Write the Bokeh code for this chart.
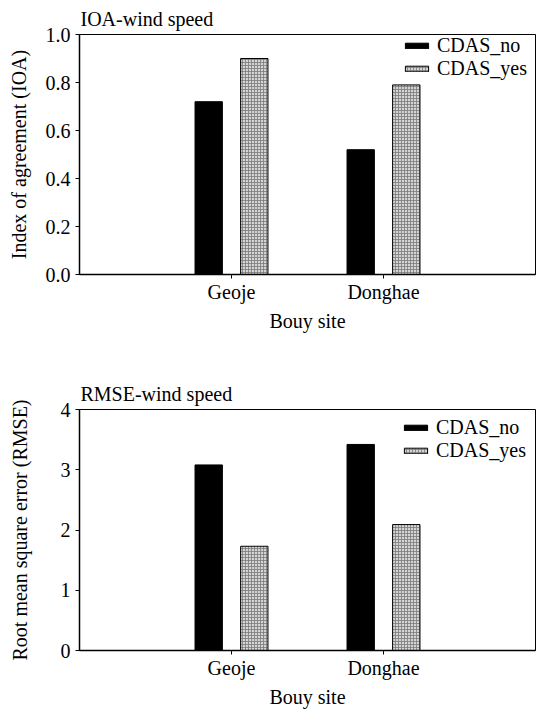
from bokeh.plotting import figure
from bokeh.layouts import column
from bokeh.models import ColumnDataSource, FixedTicker, PrintfTickFormatter, Range1d
from bokeh.transform import dodge
from bokeh.embed import file_html
from bokeh.resources import INLINE

# buoy sites and model scores (without / with CDAS)
sites = ["Geoje", "Donghae"]
ioa_no = [0.72, 0.52]
ioa_yes = [0.90, 0.79]
rmse_no = [3.08, 3.42]
rmse_yes = [1.73, 2.09]
ioa_ticks = [0.0, 0.2, 0.4, 0.6, 0.8, 1.0]
rmse_ticks = [0, 1, 2, 3, 4]
series_names = ["CDAS_no", "CDAS_yes"]

FONT = "Liberation Serif"
SIZE = "20px"
BAR_W = 0.18
SHIFT = 0.15


def bar_panel(title, ylabel, no_vals, yes_vals, yticks, yfmt, height,
              borders, ylabel_gap, legend_margin, legend_label_width, legend_row):
    pos = list(range(1, len(sites) + 1))
    src = ColumnDataSource(dict(x=pos, no=no_vals, yes=yes_vals))
    left, right, top, bottom = borders
    p = figure(width=541, height=height,
               x_range=Range1d(0, len(sites) + 1),
               y_range=Range1d(yticks[0], yticks[-1]),
               output_backend="svg", toolbar_location=None, title=title,
               min_border_left=left, min_border_right=right,
               min_border_top=top, min_border_bottom=bottom)

    p.vbar(x=dodge("x", -SHIFT), top="no", width=BAR_W, source=src,
           fill_color="black", line_color="black", line_width=1,
           legend_label=series_names[0])
    p.vbar(x=dodge("x", SHIFT), top="yes", width=BAR_W, source=src,
           fill_color="#d4d4d4", line_color="black", line_width=1,
           hatch_pattern="cross", hatch_scale=3, hatch_color="#7a7a7a",
           hatch_weight=0.8, legend_label=series_names[1])

    p.title.text_font = FONT
    p.title.text_font_size = SIZE
    p.title.text_font_style = "normal"
    p.title.text_color = "black"
    p.title.align = "left"
    p.title.standoff = 10
    p.title.offset = 1

    p.xgrid.visible = False
    p.ygrid.visible = False
    p.outline_line_color = "black"
    p.outline_line_width = 1
    p.background_fill_color = "white"
    p.border_fill_color = "white"

    p.xaxis.ticker = FixedTicker(ticks=pos)
    p.xaxis.major_label_overrides = {i: s for i, s in zip(pos, sites)}
    p.xaxis.axis_label = "Bouy site"
    p.yaxis.ticker = FixedTicker(ticks=yticks)
    p.yaxis.formatter = PrintfTickFormatter(format=yfmt)
    p.yaxis.axis_label = ylabel

    for ax in (p.xaxis[0], p.yaxis[0]):
        ax.axis_line_color = "black"
        ax.axis_line_width = 1.5
        ax.major_tick_line_color = "black"
        ax.major_tick_line_width = 1
        ax.major_tick_in = 0
        ax.major_tick_out = 4
        ax.minor_tick_line_color = None
        ax.major_label_text_font = FONT
        ax.major_label_text_font_size = SIZE
        ax.major_label_text_color = "black"
        ax.axis_label_text_font = FONT
        ax.axis_label_text_font_size = SIZE
        ax.axis_label_text_font_style = "normal"
        ax.axis_label_text_color = "black"
    p.xaxis.major_label_standoff = 2
    p.xaxis.axis_label_standoff = 4
    p.yaxis.major_label_standoff = 5
    p.yaxis.axis_label_standoff = ylabel_gap

    lg = p.legend[0]
    lg.location = "top_right"
    lg.margin = legend_margin
    lg.padding = 2
    lg.spacing = 0
    lg.glyph_width = 29
    lg.glyph_height = 7
    lg.label_height = legend_row
    lg.label_width = legend_label_width
    lg.label_standoff = 6
    lg.label_text_font = FONT
    lg.label_text_font_size = SIZE
    lg.label_text_color = "black"
    lg.border_line_color = None
    lg.background_fill_alpha = 0
    return p


top = bar_panel("IOA-wind speed", "Index of agreement (IOA)", ioa_no, ioa_yes,
                ioa_ticks, "%.1f", 348, (79, 3, 33, 74), 13, 0, 98, 20)
bottom = bar_panel("RMSE-wind speed", "Root mean square error (RMSE)", rmse_no,
                   rmse_yes, rmse_ticks, "%d", 362, (70, 6, 61, 58), 27, 7, 92, 19)

layout = column(top, bottom, spacing=0)
open("out.html", "w").write(file_html(layout, INLINE))
